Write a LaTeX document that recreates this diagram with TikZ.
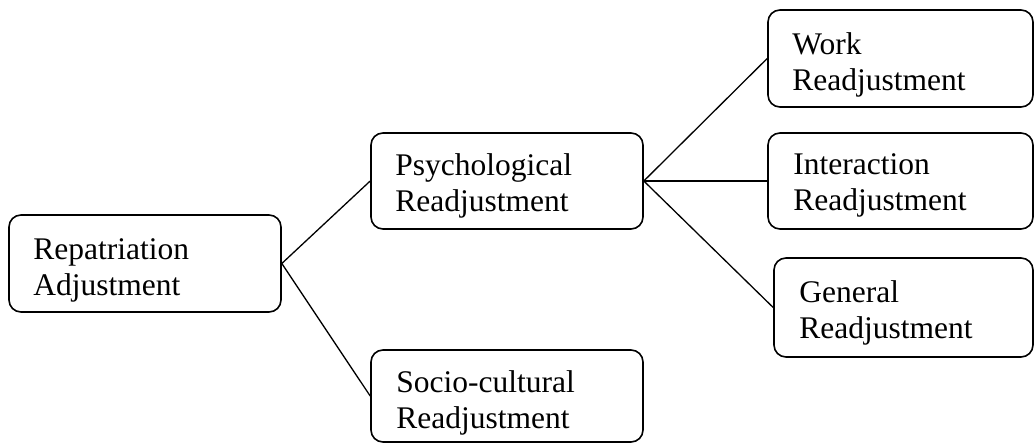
\documentclass[tikz,border=0pt]{standalone}
\usepackage{fontspec}
\setmainfont{Liberation Serif}
\usetikzlibrary{calc}
\begin{document}
\begin{tikzpicture}[x=1pt,y=-1pt,
  tbox/.style={draw=black, line width=1.6pt, rounded corners=12pt, inner sep=0pt},
  tlabel/.style={anchor=north west, inner sep=0pt, align=left,
    font=\fontsize{31.5}{36}\selectfont},
  link/.style={draw=black, line width=1.3pt}]
\useasboundingbox (0,0) rectangle (1035,443);

% boxes
\node[tbox, minimum width=272pt, minimum height=97pt] (rep) at (145,263.5) {};
\node[tbox, minimum width=272pt, minimum height=96pt] (psy) at (507,181) {};
\node[tbox, minimum width=272pt, minimum height=92pt] (soc) at (507,396) {};
\node[tbox, minimum width=265pt, minimum height=97pt] (work) at (900.5,58.5) {};
\node[tbox, minimum width=265pt, minimum height=96pt] (inter) at (900.5,181) {};
\node[tbox, minimum width=259pt, minimum height=99pt] (gen) at (903.5,307.5) {};

% labels: first baseline about 44pt below the top edge, 25pt in from the left
\node[tlabel] (repT) at ($(rep.north west)+(25,20)$) {\rule{0pt}{25pt}Repatriation\\Adjustment};
\node[tlabel] (psyT) at ($(psy.north west)+(25,18)$) {\rule{0pt}{25pt}Psychological\\Readjustment};
\node[tlabel] (socT) at ($(soc.north west)+(26,18)$) {\rule{0pt}{25pt}Socio-cultural\\Readjustment};
\node[tlabel] (workT) at ($(work.north west)+(25,20)$) {\rule{0pt}{25pt}Work\\Readjustment};
\node[tlabel] (interT) at ($(inter.north west)+(26,17)$) {\rule{0pt}{25pt}Interaction\\Readjustment};
\node[tlabel] (genT) at ($(gen.north west)+(26,20)$) {\rule{0pt}{25pt}General\\Readjustment};

% connectors
\draw[link] (rep.east) -- (psy.west);
\draw[link] (rep.east) -- (soc.west);
\draw[link] (psy.east) -- (work.west);
\draw[link] (psy.east) -- (inter.west);
\draw[link] (psy.east) -- (gen.west);
\end{tikzpicture}
\end{document}
